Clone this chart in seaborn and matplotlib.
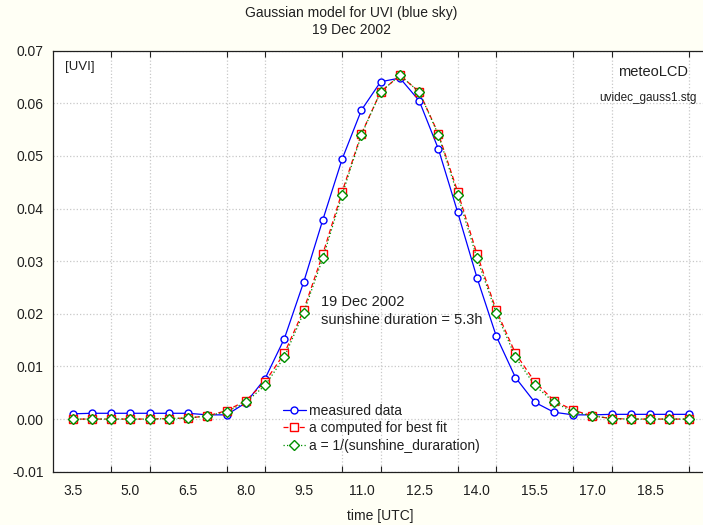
import numpy as np
import pandas as pd
import matplotlib
matplotlib.use("Agg")
import matplotlib.pyplot as plt
import seaborn as sns
from matplotlib.ticker import FixedLocator, FormatStrFormatter

# ---- data ----
time_utc = [3.5, 4.0, 4.5, 5.0, 5.5, 6.0, 6.5, 7.0, 7.5, 8.0, 8.5, 9.0, 9.5, 10.0,
            10.5, 11.0, 11.5, 12.0, 12.5, 13.0, 13.5, 14.0, 14.5, 15.0, 15.5, 16.0,
            16.5, 17.0, 17.5, 18.0, 18.5, 19.0, 19.5]
measured = [0.0010, 0.0011, 0.0011, 0.0011, 0.0011, 0.0011, 0.0011, 0.0008, 0.0008,
            0.0031, 0.0077, 0.0153, 0.0260, 0.0379, 0.0494, 0.0587, 0.0641, 0.0648,
            0.0605, 0.0513, 0.0393, 0.0269, 0.0158, 0.0079, 0.0032, 0.0013, 0.0008,
            0.0008, 0.0009, 0.0009, 0.0009, 0.0009, 0.0009]
best_fit = [0.0, 0.0, 0.0, 0.0, 0.0, 0.0001, 0.0002, 0.0006, 0.0016, 0.0035, 0.0071,
            0.0125, 0.0207, 0.0314, 0.0432, 0.0542, 0.0622, 0.0653, 0.0622, 0.0542,
            0.0432, 0.0314, 0.0207, 0.0125, 0.0071, 0.0035, 0.0017, 0.0006, 0.0001,
            0.0, 0.0, 0.0, 0.0]
sunshine = [0.0, 0.0, 0.0, 0.0, 0.0, 0.0001, 0.0002, 0.0006, 0.0014, 0.0032, 0.0064,
            0.0118, 0.0202, 0.0306, 0.0426, 0.0540, 0.0622, 0.0653, 0.0622, 0.0540,
            0.0426, 0.0306, 0.0202, 0.0118, 0.0064, 0.0032, 0.0014, 0.0006, 0.0001,
            0.0, 0.0, 0.0, 0.0]
series_labels = ["measured data", "a computed for best fit", "a = 1/(sunshine_duraration)"]
x_ticklabels = ["3.5", "5.0", "6.5", "8.0", "9.5", "11.0", "12.5", "14.0", "15.5", "17.0", "18.5"]
y_ticks = [-0.01, 0.0, 0.01, 0.02, 0.03, 0.04, 0.05, 0.06, 0.07]

df = pd.DataFrame({"time": time_utc, "measured": measured,
                   "fit": best_fit, "sun": sunshine})

sns.set_style("white")
plt.rcParams["font.family"] = ["Liberation Sans", "DejaVu Sans"]

W, H = 703, 525
fig = plt.figure(figsize=(W / 100, H / 100), dpi=100)
fig.patch.set_facecolor("#FFFFF5")
ax = fig.add_axes([53.3 / W, (H - 471.7) / H, (708 - 53.3) / W, 421.0 / H])
ax.set_facecolor("white")

styles = [
    ("measured", "#0000FF", "o", "-", 5.0),
    ("fit", "#FF0000", "s", (0, (4, 2.5)), 5.5),
    ("sun", "#009000", "D", (0, (1, 1.8)), 4.6),
]
for (col, color, mk, ls, ms), lab in zip(styles, series_labels):
    sns.lineplot(data=df, x="time", y=col, ax=ax, color=color, marker=mk,
                 linestyle=ls, linewidth=0.9, markersize=ms,
                 markerfacecolor="white", markeredgecolor=color,
                 markeredgewidth=1.0, label=lab, legend=False)

ax.set_xlim(3.0, 20.0)
ax.set_ylim(-0.01, 0.07)

# labels every 1.5 h, grid/tick marks every 1 h
ax.xaxis.set_major_locator(FixedLocator([3.5 + 1.5 * i for i in range(len(x_ticklabels))]))
ax.set_xticklabels(x_ticklabels)
ax.xaxis.set_minor_locator(FixedLocator([3.5 + i for i in range(17)]))
ax.tick_params(axis="x", which="major", length=0, pad=9, labelsize=10, colors="#202020")
ax.tick_params(axis="x", which="minor", direction="in", length=4, width=0.8,
               top=True, bottom=True, color="#202020")
ax.set_yticks(y_ticks)
ax.yaxis.set_major_formatter(FormatStrFormatter("%.2f"))
ax.tick_params(axis="y", which="major", direction="in", length=4, width=0.8,
               pad=7, labelsize=10, colors="#202020")

ax.grid(False)
ax.grid(True, axis="y", which="major", color="#C8C8C8", linestyle=":", linewidth=0.9)
ax.grid(True, axis="x", which="minor", color="#C8C8C8", linestyle=":", linewidth=0.9)
ax.set_axisbelow(True)

for s in ax.spines.values():
    s.set_color("#202020")
    s.set_linewidth(0.9)

ax.set_xlabel("time [UTC]", fontsize=10, color="#202020", labelpad=8)
ax.set_ylabel("")

fig.text(0.5, 1 - 13 / H, "Gaussian model for UVI (blue sky)", ha="center", va="center",
         fontsize=10, color="#202020")
fig.text(0.5, 1 - 30 / H, "19 Dec 2002", ha="center", va="center",
         fontsize=10, color="#202020")

fig.text(65 / W, 1 - 67 / H, "[UVI]", ha="left", va="center", fontsize=9.5, color="#202020")
fig.text(688 / W, 1 - 72 / H, "meteoLCD", ha="right", va="center", fontsize=10.5, color="#202020")
fig.text(697 / W, 1 - 98 / H, "uvidec_gauss1.stg", ha="right", va="center", fontsize=8.5, color="#202020")

fig.text(321 / W, 1 - 301.7 / H, "19 Dec 2002", ha="left", va="center", fontsize=10.5, color="#202020")
fig.text(321 / W, 1 - 320 / H, "sunshine duration = 5.3h", ha="left", va="center",
         fontsize=10.5, color="#202020")

leg = ax.legend(loc="center left", bbox_to_anchor=(283 / W, 1 - 428.3 / H),
                bbox_transform=fig.transFigure, frameon=False, fontsize=10,
                handlelength=1.65, handletextpad=0.2, labelspacing=0.25,
                borderpad=0, borderaxespad=0, numpoints=1)
for t in leg.get_texts():
    t.set_color("#202020")

fig.savefig("out.png", dpi=100, facecolor=fig.get_facecolor())
